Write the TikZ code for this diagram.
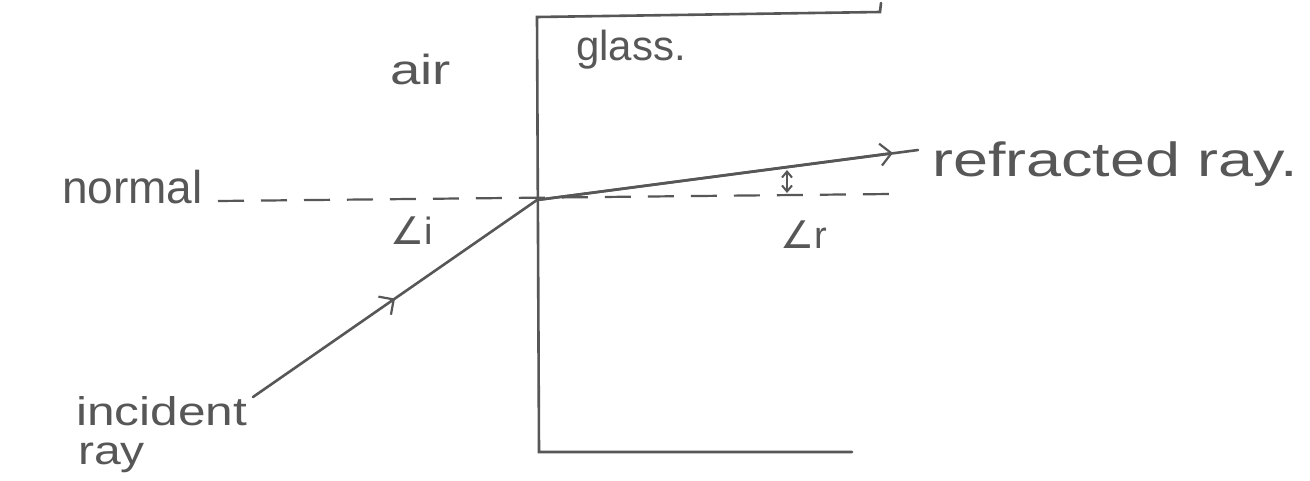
\documentclass[tikz,border=0pt]{standalone}
\usepackage{graphicx}
\usepackage{fontspec}
\setmainfont{Liberation Sans}
\newfontfamily\dvfont{DejaVu Sans}
\usetikzlibrary{arrows.meta,decorations.markings}
\definecolor{pencil}{HTML}{575757}
\tikzset{
  pen/.style={draw=pencil, line width=2.6pt, line cap=round},
  normalline/.style={draw=pencil, line width=2.2pt, dash pattern=on 26pt off 17pt},
  lbl/.style={text=pencil, inner sep=0pt, anchor=base west},
  anglbl/.style={text=pencil, inner sep=0pt, anchor=base west, font=\fontsize{38}{44}\selectfont},
  midarrow/.style={postaction={decorate, decoration={markings,
      mark=at position 0.5 with {\arrow{Straight Barb[length=11pt,width=22pt,line width=2.2pt]}}}}}
}
\begin{document}
\begin{tikzpicture}[x=1pt,y=-1pt]
\useasboundingbox[fill=white] (0,0) rectangle (1310,480);
% glass block
\coordinate (tr) at (880,12);
\coordinate (trd) at (881,3);
\coordinate (tl) at (537,17);
\coordinate (bl) at (539,452);
\coordinate (br) at (852,452);
\draw[pen] (trd) -- (tr) -- (tl) -- (bl) -- (br);
% normal
\coordinate (nl) at (218,201);
\coordinate (nr) at (890,194);
\draw[normalline] (nl) -- (nr);
% point of incidence
\coordinate (O) at (537,200);
\coordinate (inc) at (253,397);
\coordinate (ref) at (918,150);
\coordinate (refhead) at (893,153);
\draw[pen, midarrow] (inc) -- (O);
\draw[pen] (O) -- (ref);
\draw[pen, -{Straight Barb[length=11pt,width=22pt,line width=2.2pt]}] (O) -- (refhead);
% angle r marker
\coordinate (ra) at (787,170);
\coordinate (rb) at (787,193);
\draw[draw=pencil, line width=2pt, {Straight Barb[length=6pt,width=10pt]}-{Straight Barb[length=6pt,width=10pt]}] (ra) -- (rb);
% labels
\node[lbl, font=\fontsize{42}{48}\selectfont] (air) at (390,84) {\scalebox{1.3}[1]{air}};
\node[lbl, font=\fontsize{42}{48}\selectfont] (glass) at (576,60) {glass.};
\node[lbl, font=\fontsize{46}{52}\selectfont] (normal) at (62,203) {normal};
\node[lbl, font=\fontsize{48}{54}\selectfont] (refr) at (932,176) {\scalebox{1.31}[1]{refracted ray.}};
\node[lbl, font=\fontsize{40}{46}\selectfont] (incl) at (76,425) {\scalebox{1.24}[1]{incident}};
\node[lbl, font=\fontsize{40}{46}\selectfont] (rayl) at (78,464) {\scalebox{1.2}[1]{ray}};
\node[anglbl] (ai) at (390,244) {{\dvfont ∠}i};
\node[anglbl] (ar) at (780,248) {{\dvfont ∠}r};
\end{tikzpicture}
\end{document}
